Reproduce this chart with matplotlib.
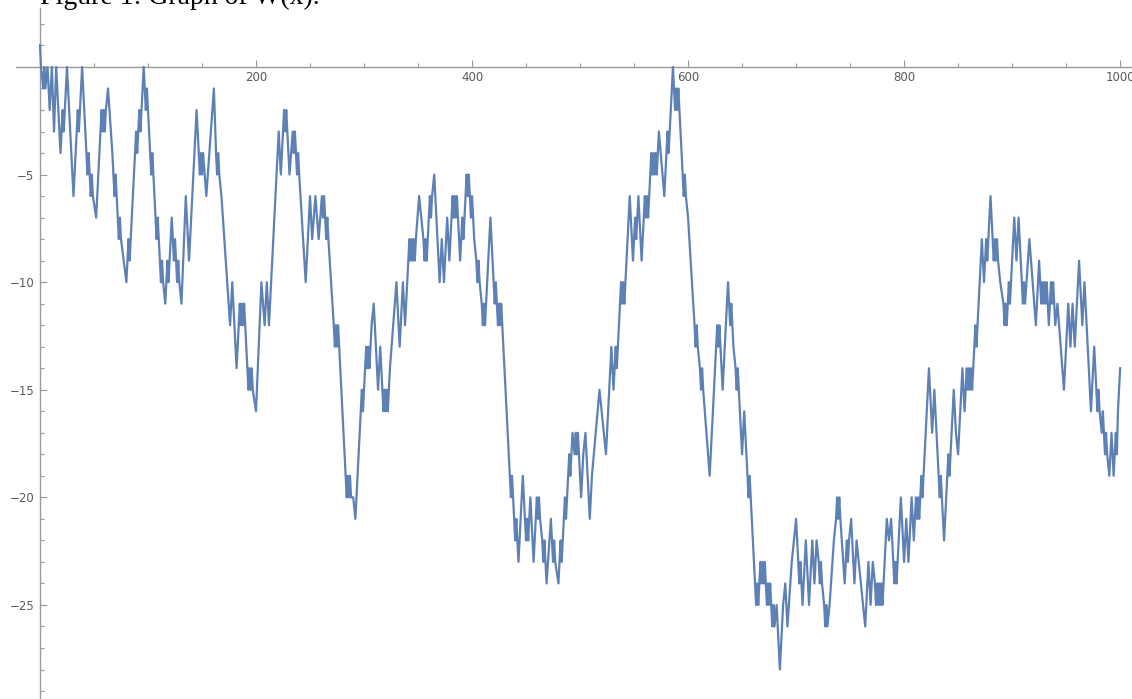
import matplotlib.pyplot as plt
from matplotlib.ticker import FixedLocator

# vertices of the walk (step index, value)
steps = [0, 1, 3, 4, 5, 7, 9, 11, 13, 15, 19, 21, 22, 23, 25, 31, 35, 36, 37, 39,
         44, 45, 46, 47, 48, 49, 52, 57, 58, 59, 60, 61, 63, 67, 69, 70, 71, 72, 73, 74,
         75, 80, 82, 83, 88, 89, 90, 91, 92, 93, 96, 98, 99, 100, 102, 103, 104, 105, 107, 108,
         109, 110, 111, 112, 113, 114, 116, 118, 119, 120, 122, 124, 125, 126, 127, 128, 129, 131, 135, 138,
         145, 147, 148, 149, 150, 151, 154, 161, 163, 164, 165, 166, 168, 176, 178, 182, 185, 186, 187, 188,
         189, 192, 193, 194, 195, 196, 197, 200, 205, 208, 210, 212, 221, 223, 226, 227, 228, 231, 234, 235,
         236, 237, 238, 239, 240, 246, 250, 252, 255, 258, 261, 262, 263, 264, 265, 266, 267, 272, 273, 274,
         275, 276, 277, 284, 285, 286, 287, 288, 290, 292, 296, 298, 299, 300, 302, 303, 304, 305, 307, 309,
         313, 315, 317, 318, 319, 320, 321, 322, 324, 330, 333, 336, 338, 342, 343, 344, 345, 346, 347, 348,
         351, 353, 355, 356, 357, 358, 359, 361, 362, 363, 365, 370, 372, 374, 377, 379, 382, 383, 384, 385,
         386, 389, 391, 392, 393, 395, 396, 397, 398, 399, 400, 401, 402, 404, 405, 406, 407, 409, 410, 411,
         412, 417, 420, 421, 422, 423, 424, 425, 426, 427, 428, 435, 436, 437, 438, 440, 441, 442, 443, 447,
         449, 450, 451, 452, 454, 457, 460, 461, 462, 463, 465, 466, 467, 468, 469, 473, 475, 476, 477, 480,
         482, 483, 484, 486, 487, 488, 490, 491, 492, 493, 495, 496, 497, 498, 501, 503, 505, 509, 511, 518,
         520, 524, 529, 531, 533, 534, 535, 538, 539, 540, 541, 546, 549, 551, 552, 554, 557, 560, 561, 562,
         563, 564, 566, 567, 568, 569, 570, 571, 573, 578, 580, 581, 582, 584, 586, 587, 588, 589, 590, 591,
         595, 596, 597, 598, 600, 606, 607, 608, 609, 611, 612, 613, 614, 620, 627, 628, 629, 630, 632, 637,
         639, 640, 641, 642, 644, 645, 646, 647, 650, 652, 655, 656, 657, 658, 663, 664, 665, 667, 668, 669,
         670, 671, 673, 674, 675, 676, 678, 679, 680, 682, 685, 688, 690, 692, 696, 700, 702, 703, 704, 706,
         709, 712, 715, 717, 719, 721, 722, 723, 724, 726, 727, 728, 729, 731, 735, 737, 738, 739, 740, 741,
         745, 747, 748, 749, 751, 753, 754, 755, 756, 758, 762, 764, 767, 769, 771, 773, 774, 775, 776, 777,
         778, 779, 780, 782, 784, 786, 788, 790, 791, 792, 793, 797, 800, 802, 804, 807, 809, 811, 812, 813,
         814, 815, 816, 817, 818, 823, 826, 828, 832, 833, 834, 837, 840, 841, 842, 846, 847, 848, 850, 854,
         856, 858, 859, 860, 861, 862, 863, 864, 866, 867, 868, 872, 874, 876, 877, 878, 880, 882, 883, 884,
         885, 886, 887, 889, 892, 893, 894, 895, 897, 898, 899, 902, 904, 906, 909, 910, 911, 912, 916, 919,
         922, 925, 926, 927, 928, 929, 930, 931, 932, 934, 935, 936, 937, 938, 940, 942, 948, 952, 954, 956,
         958, 962, 965, 967, 973, 976, 978, 979, 980, 981, 983, 984, 985, 986, 987, 988, 990, 992, 994, 995,
         996, 997, 998, 1000]
values = [1, 0, -1, 0, -1, 0, -2, 0, -3, 0, -4, -2, -3, -2, 0, -6, -2, -3, -2, 0,
          -5, -4, -5, -6, -5, -6, -7, -2, -3, -2, -3, -2, -1, -4, -6, -5, -6, -7, -8, -7,
          -8, -10, -8, -9, -4, -3, -4, -3, -2, -3, 0, -2, -1, -2, -4, -5, -4, -5, -7, -8,
          -7, -8, -9, -10, -9, -10, -11, -9, -10, -9, -7, -9, -8, -9, -10, -9, -10, -11, -6, -9,
          -2, -4, -5, -4, -5, -4, -6, -1, -4, -5, -4, -5, -6, -12, -10, -14, -11, -12, -11, -12,
          -11, -14, -15, -14, -15, -14, -15, -16, -10, -12, -10, -12, -3, -5, -2, -3, -2, -5, -3, -4,
          -3, -4, -5, -4, -5, -10, -6, -8, -6, -8, -6, -7, -6, -7, -8, -7, -8, -12, -13, -12,
          -13, -12, -13, -20, -19, -20, -19, -20, -20, -21, -17, -15, -16, -15, -13, -14, -13, -14, -12, -11,
          -15, -13, -15, -16, -15, -16, -15, -16, -14, -10, -13, -10, -12, -8, -9, -8, -9, -8, -9, -8,
          -6, -7, -8, -9, -8, -9, -8, -6, -7, -6, -5, -10, -8, -10, -7, -9, -6, -7, -6, -7,
          -6, -9, -7, -8, -7, -5, -6, -5, -6, -7, -6, -7, -8, -9, -10, -9, -10, -11, -12, -11,
          -12, -7, -10, -11, -10, -11, -12, -11, -12, -11, -12, -19, -20, -19, -20, -22, -21, -22, -23, -19,
          -21, -22, -21, -22, -20, -23, -20, -21, -20, -21, -22, -23, -22, -23, -24, -21, -23, -22, -23, -24,
          -22, -23, -22, -20, -21, -20, -18, -19, -18, -17, -18, -17, -18, -17, -20, -18, -17, -21, -19, -15,
          -16, -18, -13, -15, -13, -14, -13, -10, -11, -10, -11, -6, -9, -7, -8, -6, -9, -6, -7, -6,
          -7, -6, -4, -5, -4, -5, -4, -5, -3, -6, -4, -3, -4, -2, 0, -1, -2, -1, -2, -1,
          -5, -6, -5, -6, -7, -12, -13, -12, -13, -14, -15, -14, -15, -19, -12, -13, -12, -13, -15, -10,
          -12, -11, -12, -13, -14, -15, -14, -15, -18, -16, -19, -20, -19, -20, -25, -24, -25, -23, -24, -23,
          -24, -23, -25, -24, -25, -24, -26, -25, -26, -25, -28, -25, -24, -26, -23, -21, -23, -24, -23, -25,
          -22, -25, -22, -24, -22, -23, -24, -23, -24, -25, -26, -25, -26, -25, -22, -21, -20, -21, -20, -21,
          -24, -22, -23, -22, -21, -23, -24, -23, -22, -23, -25, -26, -23, -25, -23, -24, -25, -24, -25, -24,
          -25, -24, -25, -23, -21, -22, -21, -23, -24, -23, -24, -20, -23, -21, -23, -20, -22, -20, -21, -20,
          -21, -20, -19, -20, -19, -14, -17, -15, -19, -20, -19, -22, -19, -18, -19, -15, -16, -17, -18, -14,
          -16, -14, -15, -14, -15, -14, -15, -14, -12, -13, -12, -8, -10, -8, -9, -8, -6, -8, -9, -8,
          -9, -8, -9, -10, -11, -12, -11, -12, -10, -11, -10, -7, -9, -7, -10, -11, -10, -11, -8, -10,
          -12, -9, -10, -11, -10, -11, -10, -11, -10, -12, -11, -10, -11, -10, -12, -11, -15, -11, -13, -11,
          -13, -9, -12, -10, -16, -13, -15, -16, -15, -16, -17, -16, -17, -18, -17, -18, -19, -17, -19, -18,
          -17, -18, -16, -14]

x_major = [200, 400, 600, 800, 1000]
x_minor = list(range(50, 1001, 50))
y_major = [-25, -20, -15, -10, -5]
y_minor = list(range(-29, 3))

line_color = "#5E81B5"
axis_color = "#9a9a9a"
label_color = "#5a5a5a"

fig = plt.figure(figsize=(11.32, 6.99), dpi=100)
ax = fig.add_axes([16 / 1132, 0, 1 - 16 / 1132, 1 - 8 / 699])

ax.plot(steps, values, color=line_color, linewidth=1.6, zorder=3)

ax.set_xlim(-22.2, 1011)
ax.set_ylim(-29.37, 2.74)

# Mathematica style: axes crossing at the origin
for side in ["top", "right"]:
    ax.spines[side].set_visible(False)
ax.spines["left"].set_position(("data", 0))
ax.spines["bottom"].set_position(("data", 0))
for side in ["left", "bottom"]:
    ax.spines[side].set_color(axis_color)
    ax.spines[side].set_linewidth(1.0)
    ax.spines[side].set_zorder(1)

ax.xaxis.set_major_locator(FixedLocator(x_major))
ax.xaxis.set_minor_locator(FixedLocator(x_minor))
ax.yaxis.set_major_locator(FixedLocator(y_major))
ax.yaxis.set_minor_locator(FixedLocator(y_minor))

ax.tick_params(axis="both", which="both", direction="in", color=axis_color,
               labelcolor=label_color, labelsize=8.5, width=0.8)
ax.tick_params(which="major", length=5)
ax.tick_params(which="minor", length=3)
ax.tick_params(axis="x", pad=3)
ax.tick_params(axis="y", pad=4)

# caption from the page above, mostly cut off by the top edge
fig.text(40 / 1132, 1 - 4 / 699, "Figure 1: Graph of W(x).", family="Liberation Serif",
         fontsize=20, va="baseline", color="black")

fig.savefig("out.png", dpi=100)
